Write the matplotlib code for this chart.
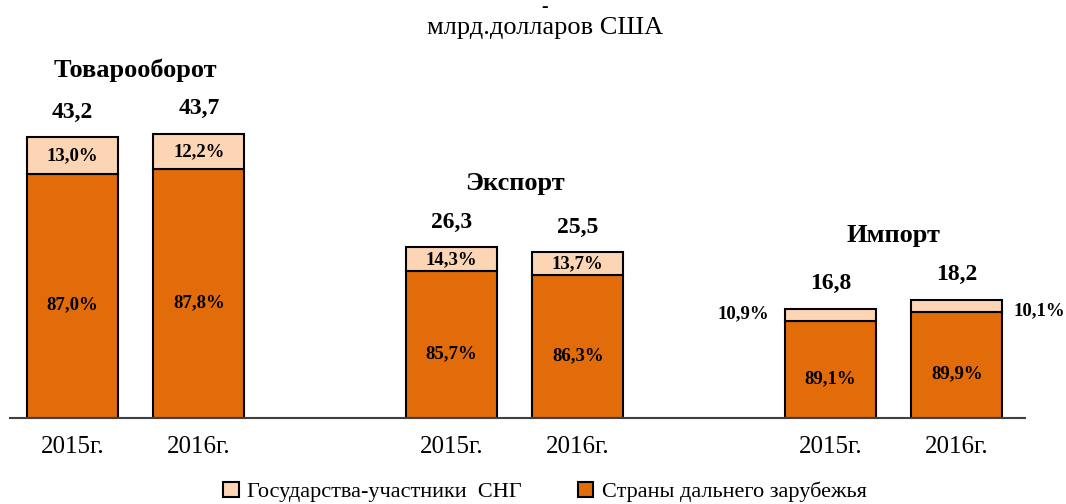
import numpy as np
import matplotlib.pyplot as plt

plt.rcParams['font.family'] = ['Liberation Serif', 'DejaVu Serif']

# data, bn USD
groups = ['Товарооборот', 'Экспорт', 'Импорт']
years = ['2015г.', '2016г.']
totals = [43.2, 43.7, 26.3, 25.5, 16.8, 18.2]
share_cis = [13.0, 12.2, 14.3, 13.7, 10.9, 10.1]
share_far = [87.0, 87.8, 85.7, 86.3, 89.1, 89.9]
total_labels = ['43,2', '43,7', '26,3', '25,5', '16,8', '18,2']
cis_labels = ['13,0%', '12,2%', '14,3%', '13,7%', '10,9%', '10,1%']
far_labels = ['87,0%', '87,8%', '85,7%', '86,3%', '89,1%', '89,9%']

c_cis = '#FCD5B4'
c_far = '#E36C0A'

totals = np.array(totals)
far = totals * np.array(share_far) / 100
cis = totals - far
x = np.array([0, 1, 3, 4, 6, 7])

fig = plt.figure(figsize=(10.66, 5.04), dpi=100)
ax = fig.add_axes([10 / 1066, 86 / 504, 1015 / 1066, 325 / 504])

w = 0.72
b1 = ax.bar(x, far, w, color=c_far, edgecolor='black', linewidth=1.5,
            label='Страны дальнего зарубежья', zorder=2)
b2 = ax.bar(x, cis, w, bottom=far, color=c_cis, edgecolor='black', linewidth=1.5,
            label='Государства-участники  СНГ', zorder=2)

ax.set_xlim(-0.495, 7.54)
ax.set_ylim(0, 50)

for i in range(6):
    ax.annotate(total_labels[i], (x[i], totals[i]), xytext=(0, 25),
                textcoords='offset pixels', ha='center', va='center',
                fontsize=17, fontweight='bold')
    ax.annotate(far_labels[i], (x[i], far[i] / 2), xytext=(0, -9),
                textcoords='offset pixels', ha='center', va='center',
                fontsize=13.5, fontweight='bold')
    if i < 4:
        ax.text(x[i], far[i] + cis[i] / 2, cis_labels[i], ha='center',
                va='center', fontsize=13.5, fontweight='bold')

# import shares sit outside the bars
ax.annotate(cis_labels[4], (x[4] - w / 2, far[4] + cis[4] / 2), xytext=(-16, 1),
            textcoords='offset pixels', ha='right', va='center',
            fontsize=13.5, fontweight='bold')
ax.annotate(cis_labels[5], (x[5] + w / 2, far[5] + cis[5] / 2), xytext=(11, -5),
            textcoords='offset pixels', ha='left', va='center',
            fontsize=13.5, fontweight='bold', annotation_clip=False)

for g, name in enumerate(groups):
    gx = x[2 * g:2 * g + 2].mean()
    top = totals[2 * g:2 * g + 2].max()
    ax.annotate(name, (gx, top), xytext=(0, 64), textcoords='offset pixels',
                ha='center', va='center', fontsize=19, fontweight='bold',
                annotation_clip=False)

ax.set_xticks(x)
ax.set_xticklabels(years * 3, fontsize=18)
ax.tick_params(axis='x', length=0, pad=13)
ax.set_yticks([])
for s in ['top', 'left', 'right']:
    ax.spines[s].set_visible(False)
ax.spines['bottom'].set_linewidth(1.5)
ax.spines['bottom'].set_color('#404040')

fig.text(545 / 1066, 1 - 28 / 504, 'млрд.долларов США', ha='center',
         va='center', fontsize=19)
fig.text(545 / 1066, 1 - 8 / 504, '-', ha='center', va='center',
         fontsize=14, fontweight='bold')

leg = fig.legend(handles=[b2, b1], loc='center', bbox_to_anchor=(545 / 1066, 1 - 492 / 504),
                 ncol=2, frameon=False, fontsize=16, handlelength=0.7,
                 handleheight=0.7, handletextpad=0.4, columnspacing=2.5)

fig.savefig('out.png', dpi=100)
